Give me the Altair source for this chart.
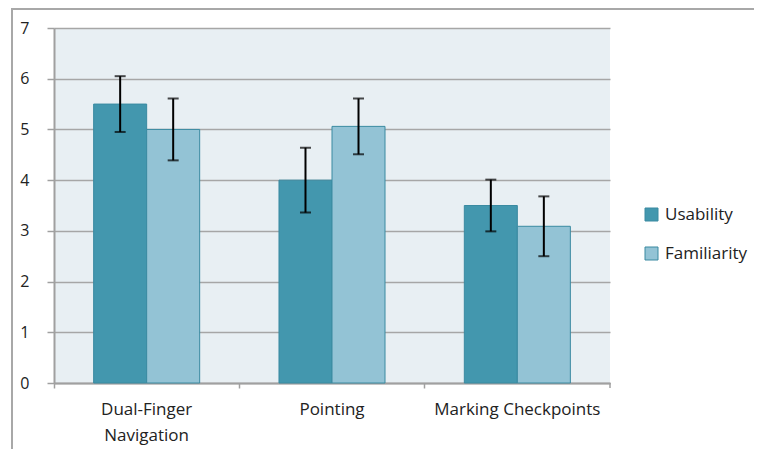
import altair as alt
import pandas as pd

categories = ["Dual-Finger Navigation", "Pointing", "Marking Checkpoints"]
series = ["Usability", "Familiarity"]
usability = [5.5, 4.0, 3.5]
usability_err = [0.55, 0.64, 0.51]
familiarity = [5.0, 5.06, 3.09]
familiarity_err = [0.61, 0.55, 0.59]
y_ticks = [0, 1, 2, 3, 4, 5, 6, 7]
colors = ["#4397AE", "#93C3D5"]

rows = []
for i, c in enumerate(categories):
    rows.append(dict(cat=c, series="Usability", value=usability[i],
                     lo=usability[i] - usability_err[i], hi=usability[i] + usability_err[i]))
    rows.append(dict(cat=c, series="Familiarity", value=familiarity[i],
                     lo=familiarity[i] - familiarity_err[i], hi=familiarity[i] + familiarity_err[i]))
df = pd.DataFrame(rows)

W, H = 556, 355
FONT = "Open Sans"
TXT = "#222222"
AXC = "#A0A0A0"

x_enc = alt.X(
    "cat:N", sort=categories,
    scale=alt.Scale(paddingInner=0, paddingOuter=0),
    axis=alt.Axis(
        title=None, labelAngle=0, bandPosition=0,
        labelExpr="datum.label == 'Dual-Finger Navigation' ? ['Dual-Finger', 'Navigation'] : datum.label",
        labelFont=FONT, labelFontSize=17, labelColor=TXT, labelLineHeight=26,
        labelPadding=13, tickSize=5, tickColor=AXC, tickWidth=1.5,
        domainColor=AXC, domainWidth=2, grid=False,
    ),
)
xo_enc = alt.XOffset("series:N", sort=series,
                     scale=alt.Scale(paddingInner=0, paddingOuter=0.748))
y_scale = alt.Scale(domain=[0, 7], nice=False)

bars = alt.Chart(df).mark_bar(stroke="#3A8AA1", strokeWidth=1).encode(
    x=x_enc,
    xOffset=xo_enc,
    y=alt.Y("value:Q", scale=y_scale,
            axis=alt.Axis(values=y_ticks, title=None, grid=True, gridColor="#A6A6A6",
                          gridWidth=1.5, domainColor=AXC, domainWidth=2, tickColor=AXC,
                          tickWidth=1.5, tickSize=7, labelPadding=18, labelFont=FONT,
                          labelFontSize=16, labelColor=TXT, format="d")),
    color=alt.Color("series:N", sort=series,
                    scale=alt.Scale(domain=series, range=colors),
                    legend=alt.Legend(title=None, orient="none", legendX=589, legendY=178,
                                      symbolType="square", symbolSize=169,
                                      symbolStrokeColor="#3A8AA1", symbolStrokeWidth=1,
                                      labelFont=FONT, labelFontSize=17, labelColor=TXT,
                                      labelOffset=5, rowPadding=21, padding=0)),
)

rules = alt.Chart(df).mark_rule(color="black", strokeWidth=2).encode(
    x=alt.X("cat:N", sort=categories), xOffset=xo_enc,
    y=alt.Y("lo:Q", scale=y_scale), y2="hi:Q",
)
cap_lo = alt.Chart(df).mark_tick(orient="horizontal", size=11, thickness=2, color="black").encode(
    x=alt.X("cat:N", sort=categories), xOffset=xo_enc, y=alt.Y("lo:Q", scale=y_scale),
)
cap_hi = alt.Chart(df).mark_tick(orient="horizontal", size=11, thickness=2, color="black").encode(
    x=alt.X("cat:N", sort=categories), xOffset=xo_enc, y=alt.Y("hi:Q", scale=y_scale),
)

deco = pd.DataFrame({"d": [0]})
frame = alt.Chart(deco).mark_rect(fillOpacity=0, stroke="#A8A8A8", strokeWidth=2).encode(
    x=alt.value(-42), x2=alt.value(900), y=alt.value(-19), y2=alt.value(700),
)
end_tick = alt.Chart(deco).mark_rule(color=AXC, strokeWidth=1.5).encode(
    x=alt.value(W), y=alt.value(H), y2=alt.value(H + 5),
)

chart = alt.layer(frame, bars, rules, cap_lo, cap_hi, end_tick).resolve_scale(
    y="shared"
).properties(
    width=W, height=H,
    autosize=alt.AutoSizeParams(type="none"),
    padding={"left": 46, "top": 20, "right": 144, "bottom": 66},
    background="white",
).configure_view(fill="#E8EFF3", stroke=None)

chart.save("out.html", embed_options={"renderer": "svg", "actions": False})
